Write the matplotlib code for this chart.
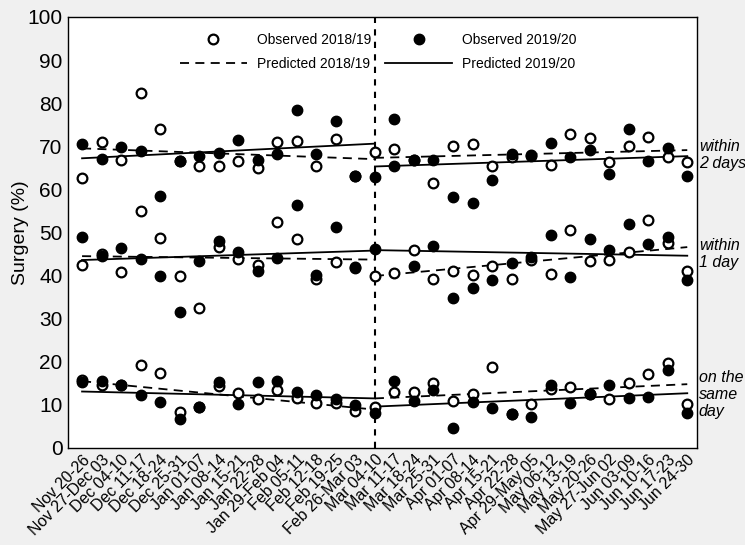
import numpy as np
import matplotlib
matplotlib.use("Agg")
import matplotlib.pyplot as plt
from matplotlib.lines import Line2D

plt.rcParams["font.family"] = ["Liberation Sans", "DejaVu Sans"]

weeks = [
    "Nov 20-26", "Nov 27-Dec 03", "Dec 04-10", "Dec 11-17", "Dec 18-24", "Dec 25-31",
    "Jan 01-07", "Jan 08-14", "Jan 15-21", "Jan 22-28", "Jan 29-Feb 04", "Feb 05-11",
    "Feb 12-18", "Feb 19-25", "Feb 26-Mar 03", "Mar 04-10", "Mar 11-17", "Mar 18-24",
    "Mar 25-31", "Apr 01-07", "Apr 08-14", "Apr 15-21", "Apr 22-28", "Apr 29-May 05",
    "May 06-12", "May 13-19", "May 20-26", "May 27-Jun 02", "Jun 03-09", "Jun 10-16",
    "Jun 17-23", "Jun 24-30",
]
break_week = 15  # Mar 04-10

# observed values (%), 2018/19 open circles, 2019/20 filled circles
obs_2d_1819 = [62.6, 70.9, 66.7, 82.3, 74.1, 66.5, 65.5, 65.3, 66.5, 65.0, 71.0, 71.3,
               65.5, 71.6, 63.0, 68.6, 69.3, 66.7, 61.5, 70.0, 70.5, 65.3, 67.4, 68.0,
               65.7, 72.9, 71.9, 66.3, 70.1, 72.2, 67.4, 66.3]
obs_2d_1920 = [70.6, 67.1, 69.8, 68.8, 58.5, 66.5, 67.8, 68.4, 71.5, 66.9, 68.1, 78.4,
               68.2, 75.8, 63.0, 62.9, 76.4, 66.7, 66.7, 58.3, 56.9, 62.2, 68.1, 67.7,
               70.8, 67.5, 69.1, 63.6, 74.1, 66.6, 69.5, 63.1]

obs_1d_1819 = [42.4, 45.0, 40.8, 55.0, 48.6, 39.9, 32.4, 46.6, 43.8, 42.4, 52.4, 48.5,
               39.2, 43.2, 42.0, 39.9, 40.6, 45.9, 39.3, 41.0, 40.1, 42.2, 39.2, 43.6,
               40.3, 50.6, 43.4, 43.7, 45.4, 52.8, 47.5, 41.1]
obs_1d_1920 = [48.9, 44.5, 46.4, 43.8, 39.9, 31.5, 43.3, 47.9, 45.4, 41.0, 44.1, 56.4,
               40.1, 51.2, 41.7, 46.1, 65.3, 42.2, 46.9, 34.7, 37.1, 38.9, 42.8, 44.2,
               49.5, 39.6, 48.4, 46.0, 51.9, 47.4, 49.0, 38.9]

obs_0d_1819 = [15.8, 14.6, 14.6, 19.3, 17.4, 8.3, 9.4, 14.4, 12.7, 11.4, 13.5, 11.7,
               10.4, 10.4, 8.6, 9.6, 13.1, 13.1, 15.0, 11.0, 12.5, 18.9, 7.8, 10.3,
               13.7, 14.1, 12.6, 11.3, 15.0, 17.2, 19.7, 10.3]
obs_0d_1920 = [15.2, 15.6, 14.6, 12.3, 10.7, 6.7, 9.4, 15.2, 10.3, 15.2, 15.6, 13.1,
               12.3, 11.4, 10.0, 8.2, 15.6, 10.9, 13.5, 4.6, 10.7, 9.2, 7.8, 7.3,
               14.6, 10.5, 12.6, 14.7, 11.7, 11.8, 18.0, 8.2]

# predicted segments: value at (start, break) and (break, end)
pred_2d_1819 = [(69.5, 67.0), (67.3, 69.1)]
pred_2d_1920 = [(67.2, 70.6), (65.3, 67.7)]
pred_1d_1819 = [(44.5, 43.7), (39.9, 46.6)]
pred_1d_1920 = [(43.6, 45.8), (45.9, 44.6)]
pred_0d_1819 = [(15.5, 8.9), (11.5, 14.8)]
pred_0d_1920 = [(13.1, 11.5), (9.6, 12.7)]

group_labels = ["within\n2 days", "within\n1 day", "on the\nsame\nday"]
group_label_y = [68, 45, 12.4]

x = np.arange(len(weeks))
seg_x = [(0, break_week), (break_week, len(weeks) - 1)]

fig = plt.figure(figsize=(7.45, 5.45), dpi=100, facecolor="#f0f0f0")
ax = fig.add_axes([0.0913, 0.178, 0.8443, 0.791])
ax.set_facecolor("white")

dash = (0, (5, 3.5))
for pred, ls in [(pred_2d_1819, dash), (pred_1d_1819, dash), (pred_0d_1819, dash),
                 (pred_2d_1920, "-"), (pred_1d_1920, "-"), (pred_0d_1920, "-")]:
    for (x0, x1), (y0, y1) in zip(seg_x, pred):
        ax.plot([x0, x1], [y0, y1], color="black", lw=1.3, linestyle=ls, zorder=2)

for ys in [obs_2d_1819, obs_1d_1819, obs_0d_1819]:
    ax.plot(x, ys, "o", ms=7, mfc="white", mec="black", mew=1.6, linestyle="none", zorder=3)
for ys in [obs_2d_1920, obs_1d_1920, obs_0d_1920]:
    ax.plot(x, ys, "o", ms=7.5, mfc="black", mec="black", linestyle="none", zorder=4)

ax.axvline(break_week, color="black", lw=1.5, linestyle=(0, (3, 3)), zorder=1)

ax.set_xlim(-0.72, 31.5)
ax.set_ylim(0, 100)
ax.set_yticks(range(0, 101, 10))
ax.set_xticks(x)
ax.set_xticklabels(weeks, rotation=45, ha="right", rotation_mode="anchor", fontsize=11.5)
ax.tick_params(axis="y", labelsize=15, length=0, pad=4)
ax.tick_params(axis="x", length=0, pad=3)
ax.set_ylabel("Surgery (%)", fontsize=14, labelpad=-1)
for s in ax.spines.values():
    s.set_linewidth(1.0)

for lab, yv in zip(group_labels, group_label_y):
    ax.text(1.003, yv, lab, transform=ax.get_yaxis_transform(), fontsize=11.5,
            style="italic", va="center", ha="left", linespacing=1.15)

handles = [
    Line2D([], [], marker="o", ms=7, mfc="white", mec="black", mew=1.6, linestyle="none"),
    Line2D([], [], color="black", lw=1.3, linestyle=dash),
    Line2D([], [], marker="o", ms=7.5, mfc="black", mec="black", linestyle="none"),
    Line2D([], [], color="black", lw=1.3),
]
labels = ["Observed 2018/19", "Predicted 2018/19", "Observed 2019/20", "Predicted 2019/20"]
ax.legend(handles, labels, ncol=2, loc="upper left", bbox_to_anchor=(0.178, 0.963),
          frameon=False, fontsize=10, handlelength=4.8, columnspacing=1.0,
          handletextpad=0.75, labelspacing=0.75, borderpad=0, borderaxespad=0)

fig.savefig("out.png", dpi=100, facecolor=fig.get_facecolor())
